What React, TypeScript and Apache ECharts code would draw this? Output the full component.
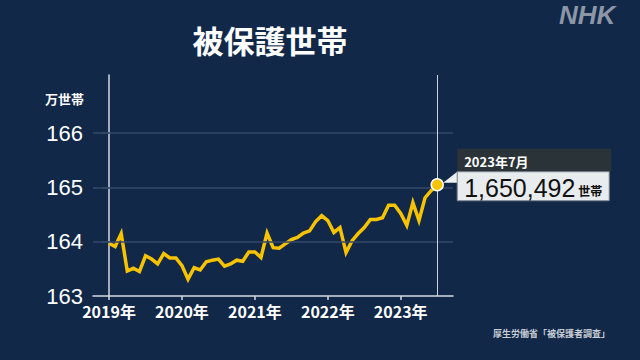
import React, { useEffect, useRef } from "react";
import * as echarts from "echarts";

const title = "被保護世帯";
const unitLabel = "万世帯";
const sourceText = "厚生労働省「被保護者調査」";
const yearLabels = ["2019年", "2020年", "2021年", "2022年", "2023年"];
const yearTickIndex = [0, 12, 24, 36, 48];
const yTicks = [163, 164, 165, 166];
// monthly, Jan 2019 .. Jul 2023, in 10,000 households
const values = [
  163.97, 163.91, 164.15, 163.46, 163.51, 163.45, 163.74, 163.68, 163.59, 163.78, 163.7, 163.7,
  163.56, 163.31, 163.52, 163.48, 163.63, 163.66, 163.68, 163.55, 163.59, 163.66, 163.64, 163.81,
  163.81, 163.71, 164.16, 163.89, 163.88, 163.96, 164.04, 164.08, 164.16, 164.2, 164.37, 164.48,
  164.39, 164.17, 164.26, 163.8, 164.02, 164.15, 164.26, 164.41, 164.41, 164.44, 164.67, 164.67,
  164.52, 164.3, 164.72, 164.39, 164.81, 164.94, 165.0492,
];
const lastLabel = "2023年7月";
const lastValueText = "1,650,492";
const lastUnit = "世帯";

const FONT = "'Liberation Sans', 'Noto Sans CJK JP', sans-serif";
const JP = "'Noto Sans CJK JP', 'Liberation Sans', sans-serif";

export default function App() {
  const ref = useRef<HTMLDivElement>(null);
  useEffect(() => {
    document.body.style.margin = "0";
    const chart = echarts.init(ref.current!, null, { renderer: "svg" });
    const lastIdx = values.length - 1;
    const data = values.map((v, i) => [i, v]);
    chart.setOption({
      animation: false,
      backgroundColor: "#112848",
      grid: { left: 93, right: 187, top: 75, bottom: 64 },
      xAxis: {
        type: "value",
        min: -2.64,
        max: 56.6,
        axisLine: { show: true, lineStyle: { color: "#d5d9e0", width: 1.5 } },
        axisTick: { show: true, customValues: yearTickIndex, length: 4, lineStyle: { color: "#d5d9e0", width: 1.5 } },
        axisLabel: {
          customValues: yearTickIndex,
          formatter: (v: number) => yearLabels[yearTickIndex.indexOf(Math.round(v))] ?? "",
          color: "#ffffff",
          fontSize: 16,
          fontWeight: "bold",
          fontFamily: JP,
          margin: 7,
        },
        splitLine: { show: false },
      },
      yAxis: {
        type: "value",
        min: 163,
        max: 167.07,
        axisLine: { show: true, lineStyle: { color: "#d5d9e0", width: 1.5 } },
        axisTick: { show: true, customValues: [164, 165, 166], length: 7, lineStyle: { color: "#34496a", width: 1.5 } },
        axisLabel: {
          customValues: yTicks,
          color: "#ffffff",
          fontSize: 22,
          fontFamily: FONT,
          margin: 10,
        },
        splitLine: { show: false },
      },
      series: [
        {
          type: "line",
          data: [],
          silent: true,
          z: 1,
          markLine: {
            silent: true,
            symbol: "none",
            label: { show: false },
            lineStyle: { color: "#34496a", width: 1.5, type: "solid" },
            data: yTicks.slice(1).map((t) => ({ yAxis: t })),
          },
        },
        {
          type: "line",
          data: data,
          z: 3,
          showSymbol: false,
          symbol: "none",
          lineStyle: { color: "#f7c300", width: 3.5, join: "miter" },
          markLine: {
            silent: true,
            symbol: "none",
            label: { show: false },
            lineStyle: { color: "#cfd3da", width: 1, type: "solid" },
            data: [{ xAxis: lastIdx }],
          },
          markPoint: {
            symbol: "circle",
            symbolSize: 12,
            label: { show: false },
            itemStyle: { color: "#f7c300", borderColor: "#ffffff", borderWidth: 1.5 },
            data: [{ coord: [lastIdx, values[lastIdx]] }],
          },
        },
      ],
    });
    const [px, py] = chart.convertToPixel({ seriesIndex: 1 }, [lastIdx, values[lastIdx]]) as number[];
    const bx = px + 20;
    const by = py - 36;
    chart.setOption({
      graphic: [
        {
          type: "text",
          x: 270,
          y: 24,
          style: { text: title, fill: "#ffffff", fontSize: 31, fontWeight: "bold", fontFamily: JP, align: "center" },
        },
        {
          type: "text",
          x: 559,
          y: 2,
          style: { text: "NHK", fill: "#8c96a6", fontSize: 26, fontWeight: "bold", fontStyle: "italic", fontFamily: FONT },
        },
        { type: "text", x: 84, y: 92, style: { text: unitLabel, fill: "#ffffff", fontSize: 13, fontWeight: "bold", fontFamily: JP, align: "right" } },
        { type: "text", x: 610, y: 329, style: { text: sourceText, fill: "#c8cdd5", fontSize: 9, fontWeight: "bold", fontFamily: JP, align: "right" } },
        {
          type: "polygon",
          shape: { points: [[px + 6, py - 2], [bx, py - 13], [bx, py - 2]] },
          style: { fill: "#eef0f2" },
          z: 10,
        },
        { type: "rect", shape: { x: bx, y: by, width: 154, height: 23 }, style: { fill: "#2a3337" }, z: 10 },
        { type: "rect", shape: { x: bx, y: by + 23, width: 152, height: 29 }, style: { fill: "#e9ecef", stroke: "#7d848c", lineWidth: 1 }, z: 10 },
        { type: "text", x: bx + 7, y: by + 6, style: { text: lastLabel, fill: "#ffffff", fontSize: 13, fontWeight: "bold", fontFamily: JP }, z: 11 },
        { type: "text", x: bx + 7, y: by + 27, style: { text: lastValueText, fill: "#111111", fontSize: 25, fontFamily: FONT }, z: 11 },
        { type: "text", x: bx + 121, y: by + 36, style: { text: lastUnit, fill: "#111111", fontSize: 12, fontWeight: "bold", fontFamily: JP }, z: 11 },
      ],
    });
    return () => chart.dispose();
  }, []);
  return <div ref={ref} style={{ position: "fixed", left: 0, top: 0, width: 640, height: 360 }} />;
}
